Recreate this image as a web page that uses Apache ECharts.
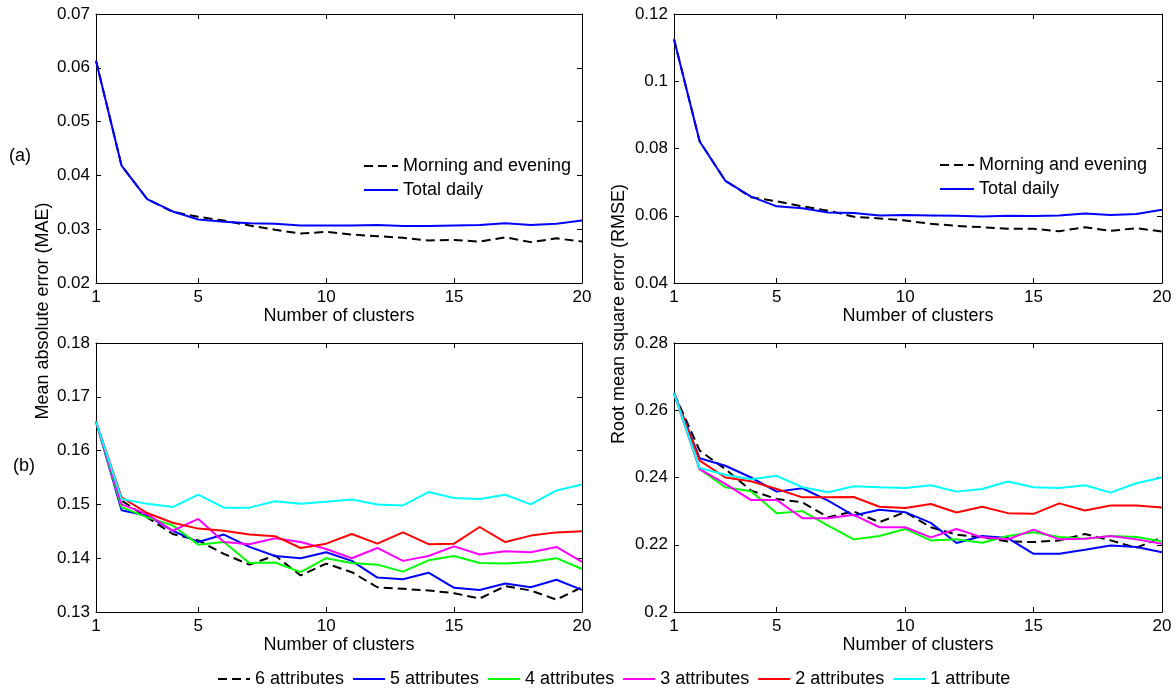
<!DOCTYPE html>
<html>
<head>
<meta charset="utf-8">
<script src="https://cdn.jsdelivr.net/npm/echarts@6/dist/echarts.min.js"></script>
<style>
html,body{margin:0;padding:0;background:#fff;}
#chart{width:1176px;height:692px;}
</style>
</head>
<body>
<div id="chart"></div>
<script>
// ---- data ----
const clusters = [1,2,3,4,5,6,7,8,9,10,11,12,13,14,15,16,17,18,19,20];
const xTickShown = [1,5,10,15,20];

const maeMorningEvening = [0.0613,0.0418,0.0356,0.0332,0.0323,0.0316,0.0307,0.0299,0.0292,0.0295,0.0290,0.0287,0.0284,0.0279,0.0280,0.0277,0.0285,0.0276,0.0283,0.0277];
const maeTotalDaily     = [0.0613,0.0418,0.0356,0.0333,0.0318,0.0314,0.0311,0.0310,0.0307,0.0307,0.0307,0.0308,0.0306,0.0306,0.0307,0.0308,0.0311,0.0308,0.0310,0.0316];
const rmseMorningEvening = [0.1125,0.0821,0.0704,0.0655,0.0643,0.0628,0.0615,0.0597,0.0592,0.0586,0.0576,0.0570,0.0566,0.0561,0.0561,0.0554,0.0566,0.0555,0.0563,0.0553];
const rmseTotalDaily     = [0.1125,0.0821,0.0704,0.0657,0.0628,0.0622,0.0610,0.0608,0.0601,0.0602,0.0601,0.0600,0.0598,0.0600,0.0599,0.0601,0.0607,0.0602,0.0605,0.0618];

const maeAttr6 = [0.1654,0.1507,0.1476,0.1445,0.1433,0.1408,0.1388,0.1405,0.1368,0.1390,0.1374,0.1346,0.1343,0.1340,0.1335,0.1325,0.1348,0.1340,0.1323,0.1346];
const maeAttr5 = [0.1654,0.1489,0.1479,0.1451,0.1430,0.1444,0.1421,0.1404,0.1400,0.1411,0.1395,0.1364,0.1361,0.1373,0.1345,0.1341,0.1353,0.1346,0.1360,0.1341];
const maeAttr4 = [0.1654,0.1495,0.1476,0.1461,0.1425,0.1430,0.1391,0.1392,0.1374,0.1400,0.1391,0.1388,0.1375,0.1396,0.1404,0.1391,0.1390,0.1393,0.1400,0.1380];
const maeAttr3 = [0.1654,0.1500,0.1482,0.1451,0.1473,0.1430,0.1426,0.1437,0.1430,0.1417,0.1400,0.1419,0.1395,0.1404,0.1422,0.1407,0.1413,0.1411,0.1421,0.1393];
const maeAttr2 = [0.1654,0.1513,0.1484,0.1466,0.1455,0.1451,0.1444,0.1441,0.1419,0.1427,0.1445,0.1427,0.1448,0.1426,0.1427,0.1458,0.1430,0.1442,0.1448,0.1450];
const maeAttr1 = [0.1654,0.1510,0.1501,0.1495,0.1518,0.1494,0.1494,0.1506,0.1501,0.1505,0.1509,0.1500,0.1498,0.1523,0.1512,0.1510,0.1518,0.1500,0.1526,0.1537];

const rmseAttr6 = [0.2651,0.2480,0.2425,0.2361,0.2336,0.2326,0.2282,0.2299,0.2267,0.2297,0.2252,0.2230,0.2222,0.2210,0.2208,0.2213,0.2232,0.2213,0.2191,0.2222];
const rmseAttr5 = [0.2651,0.2457,0.2435,0.2400,0.2358,0.2368,0.2331,0.2287,0.2304,0.2297,0.2265,0.2205,0.2226,0.2220,0.2173,0.2173,0.2185,0.2198,0.2193,0.2178];
const rmseAttr4 = [0.2651,0.2425,0.2371,0.2359,0.2294,0.2300,0.2257,0.2216,0.2226,0.2247,0.2213,0.2216,0.2206,0.2226,0.2237,0.2223,0.2218,0.2226,0.2223,0.2210];
const rmseAttr3 = [0.2651,0.2425,0.2381,0.2333,0.2333,0.2279,0.2279,0.2289,0.2252,0.2252,0.2222,0.2247,0.2222,0.2216,0.2245,0.2216,0.2218,0.2226,0.2216,0.2203];
const rmseAttr2 = [0.2651,0.2450,0.2400,0.2389,0.2366,0.2341,0.2341,0.2342,0.2313,0.2309,0.2321,0.2296,0.2313,0.2294,0.2292,0.2323,0.2302,0.2317,0.2317,0.2311];
const rmseAttr1 = [0.2651,0.2428,0.2408,0.2395,0.2405,0.2371,0.2356,0.2374,0.2371,0.2369,0.2377,0.2358,0.2366,0.2388,0.2371,0.2369,0.2377,0.2355,0.2383,0.2400];

const topNames = ['Morning and evening','Total daily'];
const attrNames = ['6 attributes','5 attributes','4 attributes','3 attributes','2 attributes','1 attribute'];
const attrColors = ['#000000','#0000ff','#00ff00','#ff00ff','#ff0000','#00ffff'];

// ---- layout / style ----
const FONT = 'Liberation Sans, Arial, Helvetica, sans-serif';
const grids = [
  {left:96, top:14, width:486, height:269},
  {left:674, top:14, width:488, height:269},
  {left:96, top:343, width:486, height:269},
  {left:674, top:343, width:488, height:269}
];
const yRanges = [
  {min:0.02, max:0.07, interval:0.01},
  {min:0.04, max:0.12, interval:0.02},
  {min:0.13, max:0.18, interval:0.01},
  {min:0.20, max:0.28, interval:0.02}
];

const tickIdx = (i) => xTickShown.indexOf(clusters[i]) >= 0;
const xAxes = [], yAxes = [];
grids.forEach((g, gi) => {
  xAxes.push({
    type:'category', gridIndex:gi, data:clusters, boundaryGap:false, position:'bottom',
    name:'Number of clusters', nameLocation:'middle', nameGap:24,
    nameTextStyle:{fontSize:18, color:'#000', fontFamily:FONT},
    axisLine:{lineStyle:{color:'#000', width:1}},
    axisTick:{inside:true, length:5, interval:(i)=>tickIdx(i), lineStyle:{color:'#000'}},
    axisLabel:{interval:(i)=>tickIdx(i), fontSize:17, color:'#000', fontFamily:FONT, margin:6},
    splitLine:{show:false}
  });
  xAxes.push({
    type:'category', gridIndex:gi, data:clusters, boundaryGap:false, position:'top',
    axisLine:{lineStyle:{color:'#000', width:1}},
    axisTick:{inside:true, length:5, interval:(i)=>tickIdx(i), lineStyle:{color:'#000'}},
    axisLabel:{show:false}, splitLine:{show:false}
  });
  const r = yRanges[gi];
  yAxes.push({
    type:'value', gridIndex:gi, min:r.min, max:r.max, interval:r.interval, position:'left',
    axisLine:{show:true, lineStyle:{color:'#000', width:1}},
    axisTick:{show:true, inside:true, length:5, lineStyle:{color:'#000'}},
    axisLabel:{fontSize:17, color:'#000', fontFamily:FONT, margin:6},
    splitLine:{show:false}
  });
  yAxes.push({
    type:'value', gridIndex:gi, min:r.min, max:r.max, interval:r.interval, position:'right',
    axisLine:{show:true, lineStyle:{color:'#000', width:1}},
    axisTick:{show:true, inside:true, length:5, lineStyle:{color:'#000'}},
    axisLabel:{show:false}, splitLine:{show:false}
  });
});

function lineSeries(name, data, color, gi, dashed) {
  return {
    type:'line', name:name, data:data, xAxisIndex:gi*2, yAxisIndex:gi*2,
    symbol:'none', showSymbol:false, animation:false, z:2,
    lineStyle:{color:color, width:2, type: dashed ? [9,5] : 'solid'},
    itemStyle:{color:color}
  };
}

const series = [
  lineSeries(topNames[0], maeMorningEvening, '#000000', 0, true),
  lineSeries(topNames[1], maeTotalDaily, '#0000ff', 0, false),
  lineSeries(topNames[0], rmseMorningEvening, '#000000', 1, true),
  lineSeries(topNames[1], rmseTotalDaily, '#0000ff', 1, false)
];
const maeAttrs = [maeAttr6, maeAttr5, maeAttr4, maeAttr3, maeAttr2, maeAttr1];
const rmseAttrs = [rmseAttr6, rmseAttr5, rmseAttr4, rmseAttr3, rmseAttr2, rmseAttr1];
attrNames.forEach((n, i) => series.push(lineSeries(n, maeAttrs[i], attrColors[i], 2, i === 0)));
attrNames.forEach((n, i) => series.push(lineSeries(n, rmseAttrs[i], attrColors[i], 3, i === 0)));

const legendBase = {
  itemWidth:34, itemHeight:14, padding:0, selectedMode:false,
  itemStyle:{opacity:0, borderWidth:0},
  textStyle:{fontSize:18, color:'#000', fontFamily:FONT}
};

const option = {
  backgroundColor:'#ffffff',
  animation:false,
  grid: grids.map(g => Object.assign({show:false, containLabel:false}, g)),
  xAxis: xAxes,
  yAxis: yAxes,
  legend: [
    Object.assign({}, legendBase, {orient:'vertical', left:363, top:157, itemGap:6, data:topNames}),
    Object.assign({}, legendBase, {orient:'vertical', left:939, top:156, itemGap:6, data:topNames}),
    Object.assign({}, legendBase, {orient:'horizontal', left:217, top:670, itemGap:8, itemWidth:32, data:attrNames})
  ],
  graphic: [
    {type:'text', left:9, top:147, style:{text:'(a)', font:'18px '+FONT, fill:'#000'}},
    {type:'text', left:13, top:457, style:{text:'(b)', font:'18px '+FONT, fill:'#000'}},
    {type:'text', x:43, y:311, rotation:Math.PI/2,
      style:{text:'Mean absolute error (MAE)', font:'18px '+FONT, fill:'#000', align:'center', verticalAlign:'middle'}},
    {type:'text', x:619, y:314, rotation:Math.PI/2,
      style:{text:'Root mean square error (RMSE)', font:'18px '+FONT, fill:'#000', align:'center', verticalAlign:'middle'}}
  ],
  series: series
};

const chart = echarts.init(document.getElementById('chart'), null, {renderer:'canvas'});
chart.setOption(option);
</script>
</body>
</html>
